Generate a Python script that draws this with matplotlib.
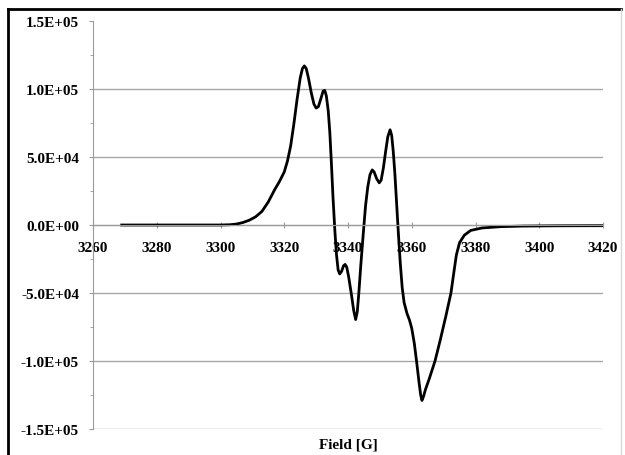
import matplotlib
matplotlib.use("Agg")
import matplotlib.pyplot as plt
from matplotlib.lines import Line2D
from matplotlib.ticker import FuncFormatter, MultipleLocator

# EPR spectrum
field = [3269, 3280, 3290, 3300, 3303, 3305, 3307, 3309, 3311, 3313, 3315, 3317,
         3318.5, 3320, 3321, 3322, 3323, 3324, 3325, 3325.7, 3326.3, 3326.9,
         3327.6, 3328.5, 3329.3, 3330, 3330.7, 3331.5, 3332.2, 3332.7, 3333.2,
         3333.8, 3334.3, 3334.8, 3335.3, 3335.9, 3336.4, 3336.9, 3337.4, 3338,
         3338.6, 3339.1, 3339.6, 3340.2, 3341, 3341.8, 3342.4, 3342.9, 3343.4,
         3344, 3344.8, 3345.5, 3346.2, 3346.9, 3347.6, 3348.2, 3349, 3349.8,
         3350.4, 3351.1, 3351.8, 3352.5, 3353.2, 3353.7, 3354.2, 3354.7, 3355.2,
         3355.8, 3356.4, 3357, 3357.6, 3358.5, 3359.3, 3360, 3360.8, 3361.5,
         3362.3, 3362.8, 3363.2, 3363.7, 3364.3, 3365.5, 3367.3, 3369, 3370.7,
         3372.3, 3373.2, 3374, 3375, 3376.5, 3378.5, 3382, 3388, 3395, 3405, 3420]
signal = [0, 0, 0, 0, 200, 700, 1800, 3500, 6000, 10000, 17000, 26000,
          32000, 39000, 47000, 58000, 74000, 92000, 108000, 115000, 117000, 115000,
          108000, 97000, 89000, 86000, 87000, 93000, 98500, 99000, 95000,
          84000, 68000, 45000, 20000, -5000, -22000, -33000, -36000, -34000,
          -30000, -29000, -31000, -38000, -50000, -63000, -69500, -64000, -50000,
          -30000, -6000, 14000, 28000, 37000, 40500, 39000, 34000, 31000,
          33000, 42000, 54000, 65000, 70000, 66000, 54000, 38000, 18000,
          -6000, -28000, -46000, -57000, -65000, -70000, -76000, -87000, -100000,
          -116000, -125000, -129000, -126000, -121000, -113000, -100000, -84000, -67000,
          -50000, -35000, -22000, -13000, -7500, -4000, -2200, -1200, -800, -600, -500]

x_ticks = [3260, 3280, 3300, 3320, 3340, 3360, 3380, 3400, 3420]
y_ticks = [-1.5e5, -1.0e5, -5.0e4, 0, 5.0e4, 1.0e5, 1.5e5]

font = {"family": "Liberation Serif", "weight": "bold", "size": 11}

fig = plt.figure(figsize=(6.25, 4.56), dpi=100)
ax = fig.add_axes([93 / 625, 1 - 430 / 456, 510 / 625, 408 / 456])

ax.plot(field, signal, color="black", linewidth=2)

ax.set_xlim(x_ticks[0], x_ticks[-1])
ax.set_ylim(y_ticks[0], y_ticks[-1])
ax.set_xticks(x_ticks)
ax.set_yticks(y_ticks)
ax.yaxis.set_minor_locator(MultipleLocator(2.5e4))
ax.yaxis.set_major_formatter(FuncFormatter(lambda v, p: f"{v:.1E}"))

for s in ["top", "right"]:
    ax.spines[s].set_visible(False)
ax.spines["bottom"].set_position(("data", 0))
ax.spines["bottom"].set_color("#9a9a9a")
ax.spines["left"].set_color("#9a9a9a")

ax.yaxis.grid(True, color="#a8a8a8", linewidth=1)
ax.yaxis.get_gridlines()[-1].set_visible(False)
ax.set_axisbelow(True)

ax.tick_params(axis="x", direction="inout", length=5, color="#9a9a9a", pad=9)
ax.tick_params(axis="y", which="major", direction="out", length=3, color="#9a9a9a", pad=7)
ax.tick_params(axis="y", which="minor", direction="out", length=2, color="#9a9a9a")
for lbl in ax.get_xticklabels() + ax.get_yticklabels():
    lbl.set_fontproperties(font)

fig.text(348 / 625, 1 - 445 / 456, "Field [G]", ha="center", va="center", fontdict=font)

# frame around the chart area
fig.add_artist(Line2D([8 / 625, 8 / 625], [0, 1 - 10 / 456], color="black", linewidth=2))
fig.add_artist(Line2D([8 / 625, 621 / 625], [1 - 10 / 456, 1 - 10 / 456], color="black", linewidth=2))
fig.add_artist(Line2D([621 / 625, 621 / 625], [0, 1 - 10 / 456], color="#d8d8d8", linewidth=1))

fig.savefig("out.png", dpi=100)
